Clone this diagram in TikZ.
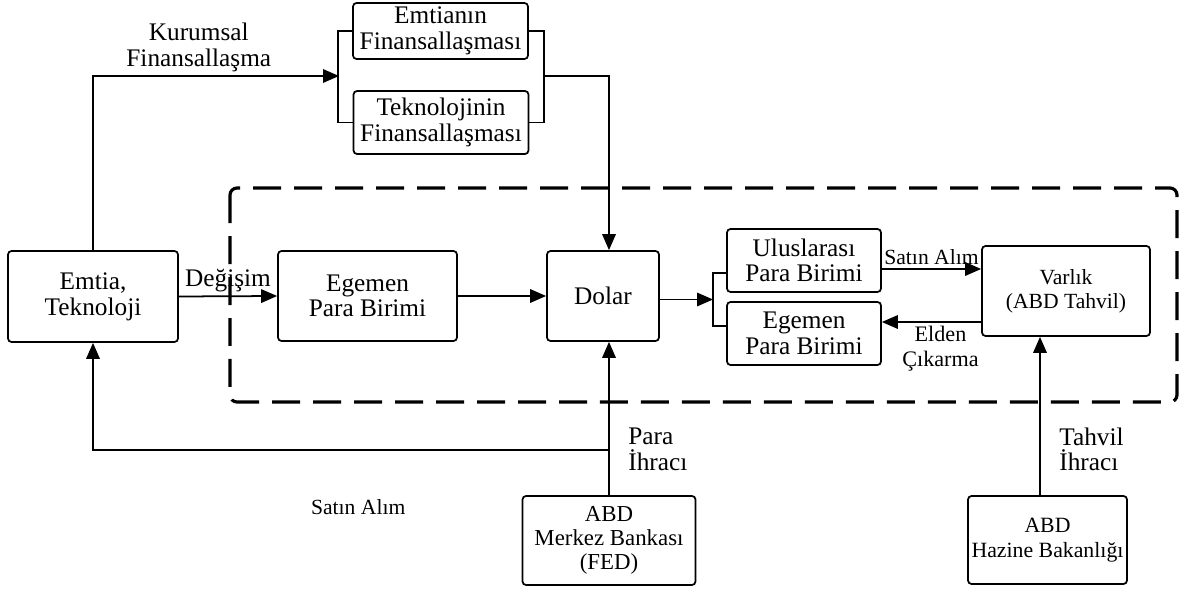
\documentclass[tikz,border=0pt]{standalone}
\usepackage{fontspec}
\setmainfont{Liberation Serif}
\usetikzlibrary{arrows.meta, positioning, calc}
\newcommand{\fbig}{\fontsize{14.4}{14.6}\selectfont}
\newcommand{\fmid}{\fontsize{13}{13.5}\selectfont}
\newcommand{\fsmall}{\fontsize{12.3}{13.8}\selectfont}

\begin{document}
\begin{tikzpicture}[x=0.02cm, y=-0.02cm,
  box/.style={draw, rounded corners=2pt, line width=1pt, align=center, inner sep=0pt, font=\fbig},
  arr/.style={-{Triangle[length=0.32cm, width=0.27cm]}, line width=1pt},
  ln/.style={line width=1pt},
  lbl/.style={align=center, inner sep=2pt}]
\useasboundingbox (0,0) rectangle (1181,591);

\draw[line width=1.8pt, dash pattern=on 0.56cm off 0.26cm, rounded corners=4pt] (230,188) rectangle (1177,402);

\node[box, minimum width=3.40cm, minimum height=1.82cm] (emtia) at (93,296.5) {Emtia,\\Teknoloji};
\node[box, minimum width=3.58cm, minimum height=1.80cm] (egemen) at (367.5,296) {Egemen\\Para Birimi};
\node[box, minimum width=2.24cm, minimum height=1.80cm] (dolar) at (603,296) {Dolar};
\node[box, minimum width=3.08cm, minimum height=1.26cm] (ulus) at (804,260.5) {Uluslarası\\Para Birimi};
\node[box, minimum width=3.08cm, minimum height=1.26cm] (egemenB) at (804,333.5) {Egemen\\Para Birimi};
\node[box, minimum width=3.36cm, minimum height=1.80cm, font=\fsmall] (varlik) at (1066,291) {Varlık\\(ABD Tahvil)};

\node[box, minimum width=3.50cm, minimum height=1.12cm] (emtF) at (440.5,31) {Emtianın\\Finansallaşması};
\node[box, minimum width=3.50cm, minimum height=1.26cm] (tekF) at (441,122.5) {Teknolojinin\\Finansallaşması};

\node[box, minimum width=3.46cm, minimum height=1.78cm, font=\fmid] (fed) at (609,540.5) {ABD\\Merkez Bankası\\(FED)};
\node[box, minimum width=3.18cm, minimum height=1.76cm, font=\fontsize{12.4}{14}\selectfont] (hazine) at (1047.5,540) {ABD\\Hazine Bakanlığı};

\coordinate (brL) at (339,76);
\coordinate (brR) at (543,76);
\coordinate (brD) at (713,299.5);
\coordinate (jn) at ([yshift=0.9cm]fed.north);

\draw[ln] (emtF.west) -- ++(-14,0) |- (tekF.west);
\draw[ln] (emtF.east) -- ++(15,0) |- (tekF.east);
\draw[arr] (emtia.north) |- node[lbl, pos=0.715, above, font=\fbig] {Kurumsal\\Finansallaşma} (brL);
\draw[arr] (brR) -| ([xshift=0.12cm]dolar.north);

\draw[arr] (emtia.east) -- node[lbl, above, font=\fbig] {Değişim} (egemen.west);
\draw[arr] (egemen.east) -- (dolar.west);

\draw[ln] ([yshift=-0.25cm]ulus.west) -| (brD) |- ([yshift=0.15cm]egemenB.west);
\draw[arr] (dolar.east |- brD) -- (brD);

\draw[arr] ([yshift=-0.17cm]ulus.east) -- node[lbl, above, font=\fsmall] {Satın Alım} ([yshift=-0.17cm]ulus.east -| varlik.west);
\draw[arr] ([yshift=0.23cm]egemenB.east -| varlik.west) -- node[lbl, below, font=\fontsize{12.6}{14}\selectfont, xshift=0.18cm] {Elden\\Çıkarma} ([yshift=0.23cm]egemenB.east);

\draw[arr] (fed.north) -- node[lbl, pos=0.3, right, xshift=0.3cm, font=\fbig, align=left] {Para\\İhracı} ([xshift=0.12cm]dolar.south);
\draw[arr] (jn) -| node[lbl, pos=0.243, below=0.9cm, font=\fsmall] {Satın Alım} (emtia.south);

\draw[arr] ([xshift=-0.15cm]hazine.north) -- node[lbl, pos=0.29, right, xshift=0.3cm, font=\fbig, align=left] {Tahvil\\İhracı} ([xshift=-0.15cm]hazine.north |- varlik.south);
\end{tikzpicture}
\end{document}
